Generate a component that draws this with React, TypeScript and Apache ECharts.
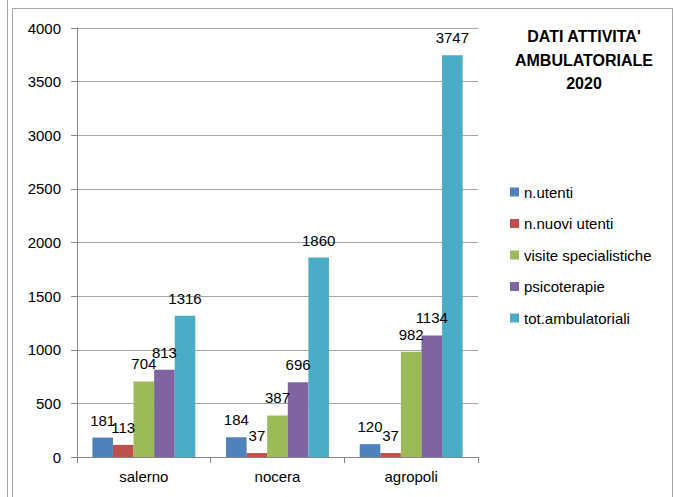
import React, { useEffect, useRef } from "react";
import * as echarts from "echarts";

const categories = ["salerno", "nocera", "agropoli"];
const seriesNames = [
  "n.utenti",
  "n.nuovi utenti",
  "visite specialistiche",
  "psicoterapie",
  "tot.ambulatoriali",
];
const nUtenti = [181, 184, 120];
const nNuoviUtenti = [113, 37, 37];
const visiteSpecialistiche = [704, 387, 982];
const psicoterapie = [813, 696, 1134];
const totAmbulatoriali = [1316, 1860, 3747];
const colors = ["#4F81BD", "#C0504D", "#9BBB59", "#8064A2", "#4BACC6"];
const titleText = "DATI ATTIVITA'\nAMBULATORIALE\n2020";

const FONT = "'Liberation Sans', Arial, sans-serif";

export default function App() {
  const ref = useRef<HTMLDivElement>(null);
  useEffect(() => {
    if (!ref.current) return;
    const chart = echarts.init(ref.current, undefined, { renderer: "svg" });
    const values = [nUtenti, nNuoviUtenti, visiteSpecialistiche, psicoterapie, totAmbulatoriali];
    chart.setOption({
      animation: false,
      textStyle: { fontFamily: FONT },
      color: colors,
      grid: { left: 77, right: 196, top: 28, bottom: 40 },
      legend: {
        orient: "vertical",
        left: 505,
        top: 179,
        itemWidth: 9,
        itemHeight: 9,
        itemGap: 15.5,
        icon: "rect",
        textStyle: { fontSize: 15, lineHeight: 16, color: "#000", fontFamily: FONT },
        data: seriesNames,
      },
      graphic: [
        {
          type: "line",
          shape: { x1: 7.5, y1: 0, x2: 7.5, y2: 497 },
          style: { stroke: "#a6a6a6", lineWidth: 1 },
        },
        {
          type: "rect",
          shape: { x: 12.5, y: 8.5, width: 660, height: 520 },
          style: { stroke: "#a6a6a6", fill: "none", lineWidth: 1 },
        },
        {
          type: "text",
          x: 584,
          y: 25,
          style: {
            text: titleText,
            fontFamily: FONT,
            fontSize: 16,
            fontWeight: "bold",
            lineHeight: 23.5,
            textAlign: "center",
            fill: "#000",
          },
        },
      ],
      xAxis: {
        type: "category",
        data: categories,
        axisLine: { lineStyle: { color: "#868686" } },
        axisTick: { show: true, length: 6, lineStyle: { color: "#868686" } },
        axisLabel: { fontSize: 15, color: "#000", margin: 12 },
      },
      yAxis: {
        type: "value",
        min: 0,
        max: 4000,
        interval: 500,
        axisLine: { show: true, lineStyle: { color: "#868686" } },
        axisTick: { show: true, length: 6, lineStyle: { color: "#868686" } },
        axisLabel: {
          fontSize: 15,
          color: "#000",
          margin: 16,
          formatter: (v: number) => String(v),
        },
        splitLine: { lineStyle: { color: "#a6a6a6" } },
      },
      series: seriesNames.map((name, i) => ({
        name,
        type: "bar",
        data: values[i],
        barGap: "0%",
        barCategoryGap: "23%",
        itemStyle: { color: colors[i] },
        label: {
          show: true,
          position: "top",
          distance: 10,
          fontSize: 15,
          color: "#000",
          fontFamily: FONT,
        },
      })),
    });
    return () => chart.dispose();
  }, []);
  return (
    <div
      ref={ref}
      style={{ position: "absolute", left: 0, top: 0, width: 674, height: 497 }}
    />
  );
}
